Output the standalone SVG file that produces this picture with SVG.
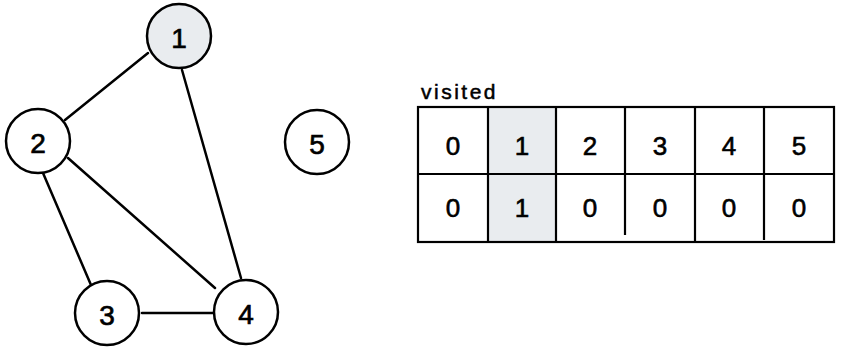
<svg xmlns="http://www.w3.org/2000/svg" width="850" height="363" viewBox="0 0 850 363">
<style>
.n{fill:#fff;stroke:#000;stroke-width:2.5}
.v{fill:#e9ecef}
.e{stroke:#000;stroke-width:2.5;stroke-linecap:round;fill:none}
.g{stroke:#000;stroke-width:2.2;fill:none}
.t{font-family:"Liberation Sans","DejaVu Sans",sans-serif;font-size:28px;text-anchor:middle;dominant-baseline:central;fill:#000;stroke:#000;stroke-width:0.7}
.c{font-family:"Liberation Sans","DejaVu Sans",sans-serif;font-size:26px;text-anchor:middle;dominant-baseline:central;fill:#000;stroke:#000;stroke-width:0.6}
.l{font-family:"Liberation Sans","DejaVu Sans",sans-serif;font-size:21px;letter-spacing:2.5px;fill:#000;stroke:#000;stroke-width:0.5}
</style>
<rect width="850" height="363" fill="#fff"/>
<g id="edges">
<line class="e" x1="148" y1="53" x2="65" y2="120"/>
<line class="e" x1="182" y1="70" x2="241" y2="278"/>
<line class="e" x1="68" y1="158" x2="215" y2="288"/>
<line class="e" x1="43" y1="173" x2="91" y2="285"/>
<line class="e" x1="142" y1="313" x2="213" y2="313"/>
</g>
<g id="node1"><circle class="n" cx="179" cy="36" r="32" style="fill:#e9ecef"/><text class="t" x="179" y="38">1</text></g>
<g id="node2"><circle class="n" cx="38" cy="141" r="32"/><text class="t" x="38" y="143">2</text></g>
<g id="node3"><circle class="n" cx="107" cy="313" r="32"/><text class="t" x="107" y="315">3</text></g>
<g id="node4"><circle class="n" cx="246" cy="312" r="32"/><text class="t" x="246" y="314">4</text></g>
<g id="node5"><circle class="n" cx="317" cy="142" r="32"/><text class="t" x="317" y="144">5</text></g>
<g id="visited">
<text class="l" x="421" y="99">visited</text>
<rect class="v" x="488" y="107" width="68" height="135"/>
<rect class="g" x="418" y="107" width="416" height="135"/>
<line class="g" x1="418" y1="174" x2="834" y2="174"/>
<line class="g" x1="488" y1="107" x2="488" y2="242"/>
<line class="g" x1="556" y1="107" x2="556" y2="242"/>
<line class="g" x1="625" y1="107" x2="625" y2="235"/>
<line class="g" x1="695" y1="107" x2="695" y2="242"/>
<line class="g" x1="764" y1="107" x2="764" y2="240"/>
<text class="c" x="453" y="146">0</text>
<text class="c" x="522" y="146">1</text>
<text class="c" x="590" y="146">2</text>
<text class="c" x="660" y="146">3</text>
<text class="c" x="729" y="146">4</text>
<text class="c" x="799" y="146">5</text>
<text class="c" x="453" y="208">0</text>
<text class="c" x="522" y="208">1</text>
<text class="c" x="590" y="208">0</text>
<text class="c" x="660" y="208">0</text>
<text class="c" x="729" y="208">0</text>
<text class="c" x="799" y="208">0</text>
</g>
</svg>
